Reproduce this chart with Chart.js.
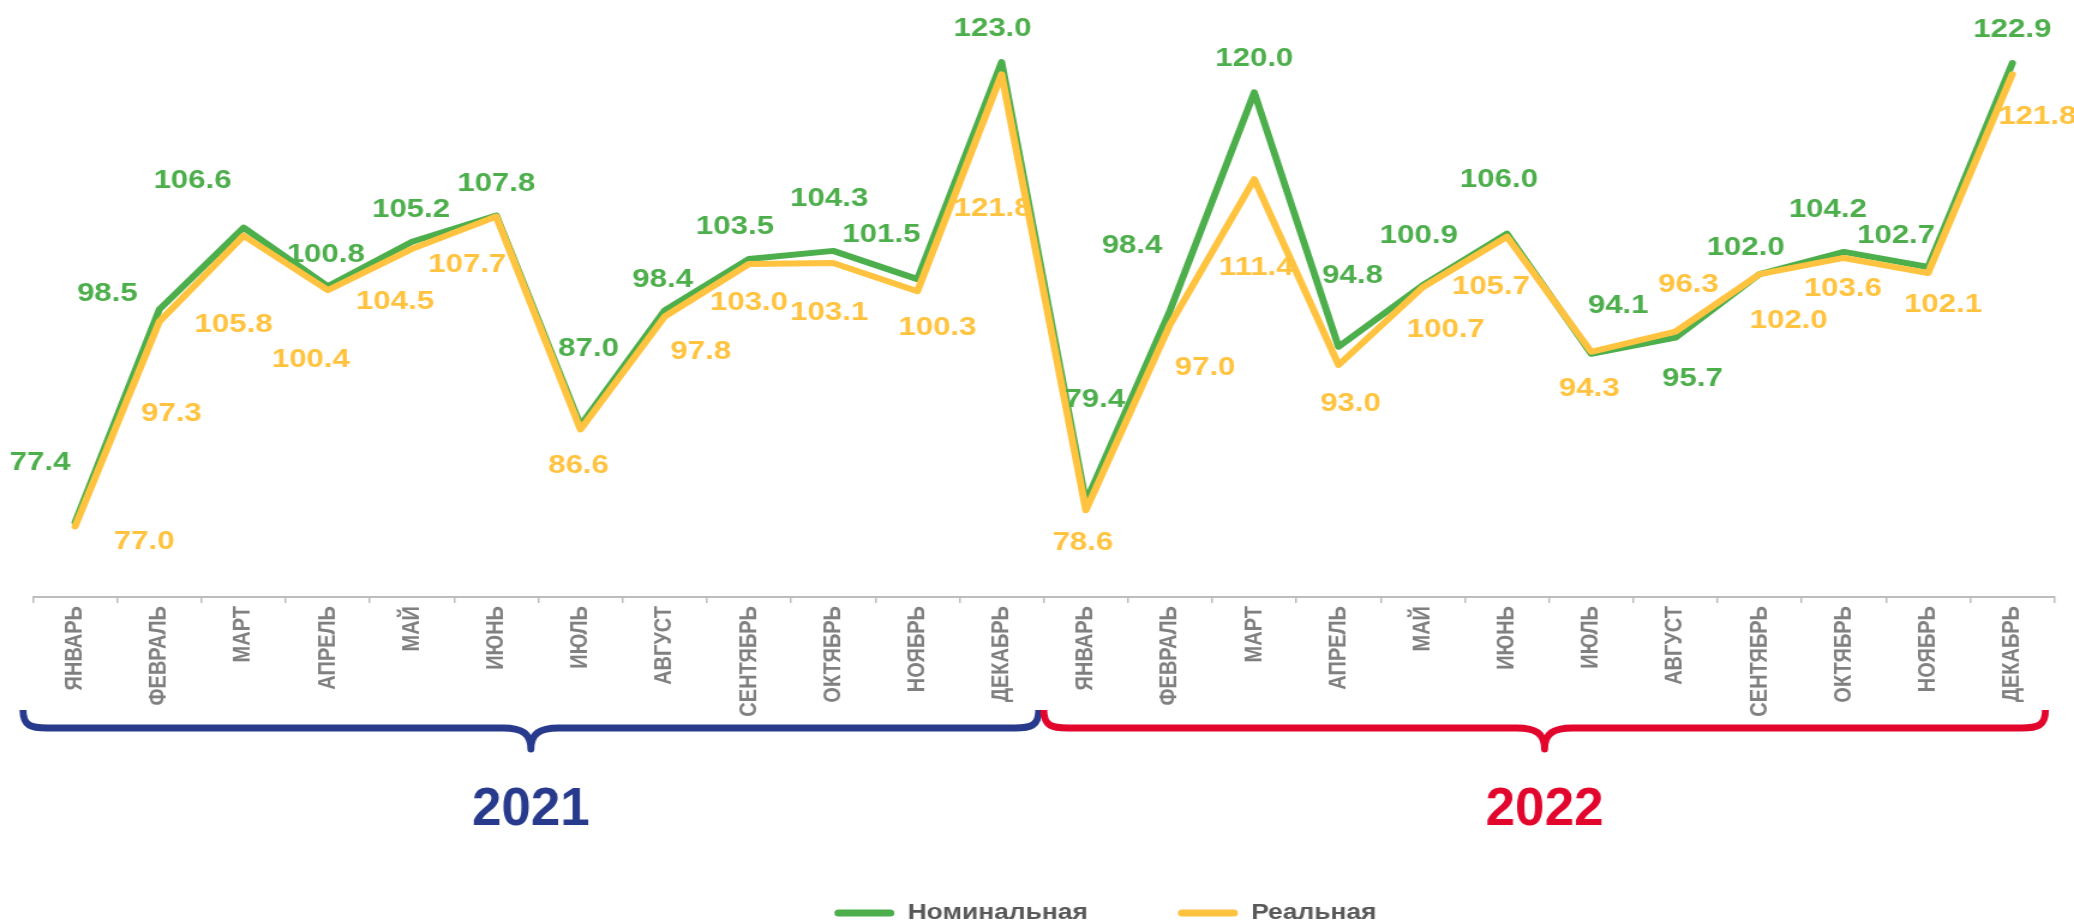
<!DOCTYPE html>
<html>
<head>
<meta charset="utf-8">
<script src="https://cdn.jsdelivr.net/npm/chart.js@4.4.1/dist/chart.umd.min.js"></script>
<style>
  html, body { margin: 0; padding: 0; background: #ffffff; overflow: hidden; }
  #wrap { position: absolute; left: 0; top: 0; width: 1728px; height: 924px; transform: scaleX(1.2002315); transform-origin: 0 0; }
  canvas { display: block; }
</style>
</head>
<body>
<div id="wrap"><canvas id="c" width="1728" height="924"></canvas></div>
<script>
// ---------- data ----------
const months = ['ЯНВАРЬ','ФЕВРАЛЬ','МАРТ','АПРЕЛЬ','МАЙ','ИЮНЬ','ИЮЛЬ','АВГУСТ','СЕНТЯБРЬ','ОКТЯБРЬ','НОЯБРЬ','ДЕКАБРЬ'];
const years = ['2021', '2022'];
const categories = years.flatMap(() => months);

const nominal = [77.4, 98.5, 106.6, 100.8, 105.2, 107.8, 87.0, 98.4, 103.5, 104.3, 101.5, 123.0,
                 79.4, 98.4, 120.0, 94.8, 100.9, 106.0, 94.1, 95.7, 102.0, 104.2, 102.7, 122.9];
const real    = [77.0, 97.3, 105.8, 100.4, 104.5, 107.7, 86.6, 97.8, 103.0, 103.1, 100.3, 121.8,
                 78.6, 97.0, 111.4, 93.0, 100.7, 105.7, 94.3, 96.3, 102.0, 103.6, 102.1, 121.8];
const seriesNames = ['Номинальная', 'Реальная'];

// label placement (relative shift from each point, screen px)
const nominalLabelShift = [[-35,-59],[-52,-16],[-51,-47],[-2,-31],[-1,-32],[0,-32],[8,-77],[-2,-31],[-14,-32],[-4,-52],[-36,-44],[-9,-33],
                           [9,-102],[-38,-65],[0,-34],[14,-71],[-4,-49],[-8,-54],[27,-48],[17,41],[-14,-26],[-16,-42],[-32,-31],[0,-33]];
const realLabelShift    = [[69,15],[12,92],[-10,89],[-17,70],[-17,53],[-29,48],[-2,36],[36,35],[0,39],[-4,50],[20,37],[-9,135],
                           [-3,33],[35,43],[2,89],[12,39],[23,43],[-16,50],[-2,37],[13,-47],[29,47],[-1,31],[15,32],[25,43]];

// ---------- style ----------
const S = 2074 / 1728;            // horizontal stretch of the picture
const GREEN = '#4DAE4C';
const YELLOW = '#FFC33F';
const yearColors = ['#283A8B', '#E2062D'];
const FONT = '"Liberation Sans", Arial, sans-serif';

const valueLabels = {
  id: 'valueLabels',
  afterDatasetsDraw(chart) {
    const ctx = chart.ctx;
    ctx.save();
    ctx.font = 'bold 26px ' + FONT;
    ctx.textAlign = 'center';
    ctx.textBaseline = 'middle';
    const shifts = [nominalLabelShift, realLabelShift];
    chart.data.datasets.forEach((ds, di) => {
      const meta = chart.getDatasetMeta(di);
      ctx.fillStyle = ds.borderColor;
      meta.data.forEach((pt, i) => {
        const sh = shifts[di][i];
        ctx.fillText(ds.data[i].toFixed(1), pt.x + sh[0] / S, pt.y + sh[1]);
      });
    });
    ctx.restore();
  }
};

const yearBraces = {
  id: 'yearBraces',
  afterDraw(chart) {
    const ctx = chart.ctx;
    const xs = chart.scales.x;
    const step = xs.getPixelForValue(1) - xs.getPixelForValue(0);
    const edge = k => (xs.getPixelForValue(0) - step / 2 + k * step) * S;
    ctx.save();
    ctx.scale(1 / S, 1);
    years.forEach((yr, gi) => {
      const a = gi * months.length, b = (gi + 1) * months.length;
      const L = edge(a) + (gi === 0 ? -10 : 0);
      const R = edge(b) + (gi === 0 ? -5 : -9);
      const M = (L + R) / 2;
      const yTop = 710, yLine = 728, yTip = 749;
      ctx.strokeStyle = yearColors[gi];
      ctx.lineWidth = 7;
      ctx.lineCap = 'butt';
      ctx.lineJoin = 'round';
      ctx.beginPath();
      ctx.moveTo(L, yTop);
      ctx.bezierCurveTo(L, yLine - 2, L + 8, yLine, L + 24, yLine);
      ctx.lineTo(M - 28, yLine);
      ctx.bezierCurveTo(M - 8, yLine, M, yLine + 6, M, yTip);
      ctx.bezierCurveTo(M, yLine + 6, M + 8, yLine, M + 28, yLine);
      ctx.lineTo(R - 24, yLine);
      ctx.bezierCurveTo(R - 8, yLine, R, yLine - 2, R, yTop);
      ctx.stroke();
      ctx.fillStyle = yearColors[gi];
      ctx.font = 'bold 53px ' + FONT;
      ctx.textAlign = 'center';
      ctx.textBaseline = 'alphabetic';
      ctx.fillText(yr, M, 825);
    });
    ctx.restore();
  }
};

new Chart(document.getElementById('c'), {
  type: 'line',
  data: {
    labels: categories,
    datasets: [
      { label: seriesNames[0], data: nominal, borderColor: GREEN, backgroundColor: GREEN, order: 1 },
      { label: seriesNames[1], data: real, borderColor: YELLOW, backgroundColor: YELLOW, order: 0 }
    ]
  },
  options: {
    responsive: false,
    devicePixelRatio: 1,
    animation: false,
    layout: { padding: { top: 42, left: 27.5, right: -86.5, bottom: -10 } },
    elements: {
      line: { borderWidth: 6, tension: 0, borderJoinStyle: 'round', borderCapStyle: 'round' },
      point: { radius: 0, hoverRadius: 0 }
    },
    scales: {
      x: {
        type: 'category',
        offset: true,
        grid: { display: true, offset: true, drawOnChartArea: false, drawTicks: true, tickLength: 6, color: '#BDBDBD', lineWidth: 1.5 },
        border: { display: true, color: '#BDBDBD', width: 2 },
        ticks: {
          autoSkip: false, minRotation: 90, maxRotation: 90, padding: 3,
          color: '#808080', font: { family: FONT, size: 20, weight: 'bold' }
        },
        afterFit(scale) { scale.height = 230; }
      },
      y: { display: false, min: 70, max: 125 },
      yR: {
        type: 'linear', position: 'right', display: true,
        grid: { display: false }, border: { display: false }, ticks: { display: false },
        afterFit(scale) { scale.width = 102.8; }
      }
    },
    plugins: {
      tooltip: { enabled: false },
      legend: {
        position: 'bottom',
        labels: {
          boxWidth: 50, boxHeight: 7, padding: 75,
          useBorderRadius: true, borderRadius: 3.5,
          color: '#595959', font: { family: FONT, size: 22, weight: 'bold' },
          sort: (a, b) => a.datasetIndex - b.datasetIndex,
          generateLabels: (chart) => Chart.defaults.plugins.legend.labels.generateLabels(chart)
            .map(l => Object.assign(l, { lineWidth: 0 }))
        }
      }
    }
  },
  plugins: [valueLabels, yearBraces]
});
</script>
</body>
</html>
